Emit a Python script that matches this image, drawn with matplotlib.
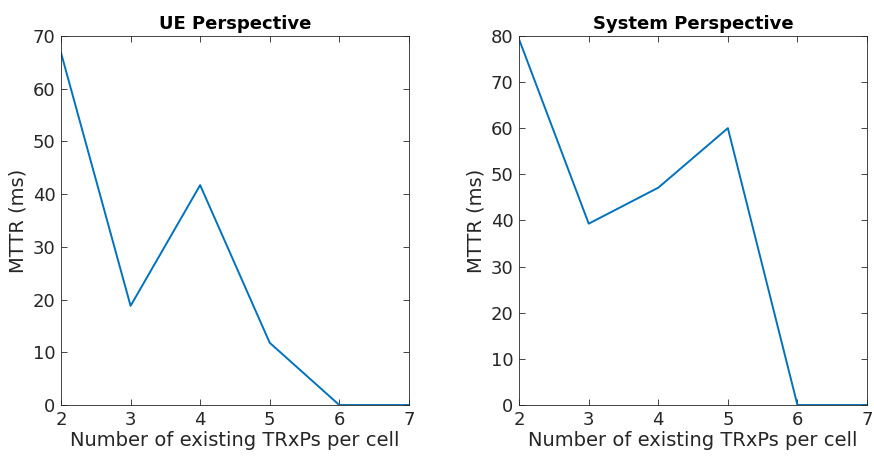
import numpy as np
import matplotlib.pyplot as plt

trxps = [2, 3, 4, 5, 6, 7]
ue_mttr = [66.8, 18.8, 41.7, 11.8, 0, 0]
sys_mttr = [79.2, 39.3, 47.1, 60.0, 0, 0]

fig = plt.figure(figsize=(8.74, 4.58), dpi=100)
ax1 = fig.add_axes([0.0698, 0.1157, 0.398, 0.806])
ax2 = fig.add_axes([0.594, 0.1157, 0.398, 0.806])

panels = [(ax1, ue_mttr, "UE Perspective", 70),
          (ax2, sys_mttr, "System Perspective", 80)]
for ax, vals, title, ymax in panels:
    ax.plot(trxps, vals, color="#0072BD", lw=1.4)
    ax.set_xlim(2, 7)
    ax.set_ylim(0, ymax)
    ax.set_xticks(np.arange(2, 8, 1))
    ax.set_yticks(np.arange(0, ymax + 1, 10))
    ax.tick_params(direction="in", top=True, right=True, labelsize=13,
                   colors="#262626", length=4, width=0.6, pad=4)
    for s in ax.spines.values():
        s.set_color("#262626")
        s.set_linewidth(0.6)
    ax.set_xlabel("Number of existing TRxPs per cell", fontsize=14, color="#262626", labelpad=2)
    ax.set_ylabel("MTTR (ms)", fontsize=14, color="#262626", labelpad=4)
    ax.set_title(title, fontsize=13, fontweight="bold", pad=5)

plt.savefig("out.png", dpi=100)
